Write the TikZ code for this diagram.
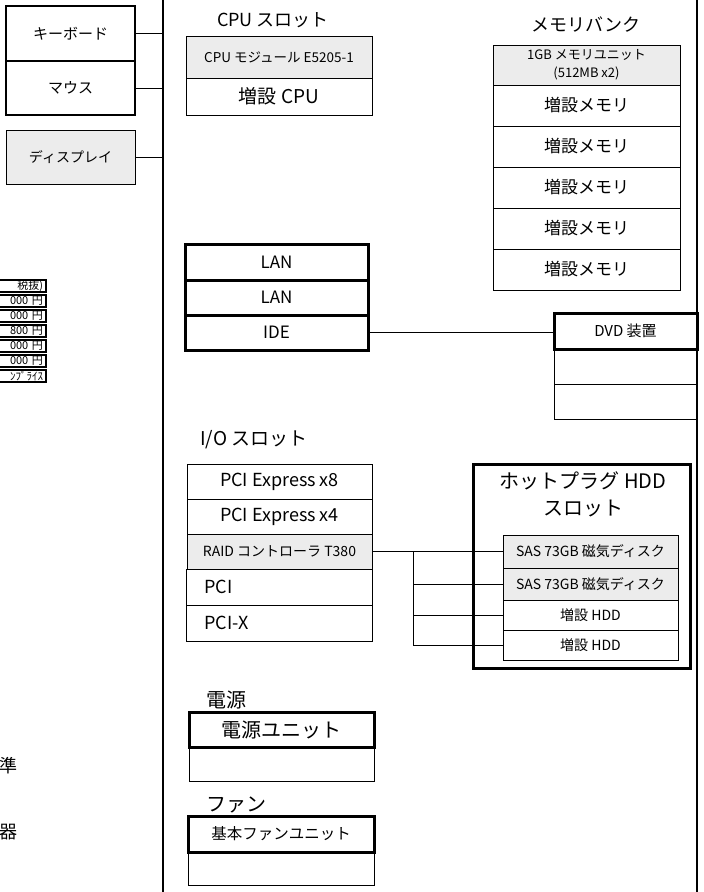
\documentclass[tikz,border=0pt]{standalone}
\usepackage{fontspec}
\setmainfont{Noto Sans CJK JP}
\usepackage{tikz}
\usetikzlibrary{positioning, calc}
\definecolor{slotgray}{RGB}{236,236,236}

\newcommand{\fs}[1]{\fontsize{#1}{#1}\selectfont}

\begin{document}
\begin{tikzpicture}[
    x=1pt, y=-1pt,
    % --- STYLES ---
    slot/.style={
        rectangle, draw=black, line width=1pt,
        outer sep=0pt, inner sep=2pt,
        minimum width=186pt, minimum height=35pt,
        align=center, font=\fs{17}
    },
    grayslot/.style={slot, fill=slotgray},
    thickslot/.style={slot, line width=3pt},
    leftslot/.style={slot, text width=150pt, align=left, inner xsep=18pt},
    pricecell/.style={
        rectangle, draw=black, line width=2pt, outer sep=0pt,
        text width=52pt, align=right, inner xsep=3pt, inner ysep=0pt,
        minimum height=11.5pt, font=\fs{11}
    },
    slottitle/.style={font=\fs{18}, inner sep=0pt},
    bus/.style={line width=2pt},
    wire/.style={line width=1pt}
]

\useasboundingbox (0,0) rectangle (704,892);
\clip (0,0) rectangle (704,892);

% ===== 1. BUS LINES =====
\coordinate (busLtop) at (163,0);
\coordinate (busLbot) at (163,892);
\coordinate (busRtop) at (697,0);
\coordinate (busRbot) at (697,892);
\draw[bus] (busLtop) -- (busLbot);
\draw[bus] (busRtop) -- (busRbot);

% ===== 2. PERIPHERALS (left) =====
\node[slot, line width=2.5pt, anchor=north west, minimum width=129pt, minimum height=55pt, font=\fs{15}] (kbd) at (6,6) {キーボード};
\node[slot, line width=2.5pt, below=0pt of kbd, minimum width=129pt, minimum height=54pt, font=\fs{15}] (mouse) {マウス};
\node[grayslot, anchor=north west, minimum width=129pt, minimum height=54pt, font=\fs{14}] (disp) at (6,130) {ディスプレイ};

\draw[wire] (kbd.east) -- (kbd.east -| busLtop);
\draw[wire] (mouse.east) -- (mouse.east -| busLtop);
\draw[wire] (disp.east) -- (disp.east -| busLtop);

% price table (cut off at the left edge)
\foreach \txt [count=\i] in {{税抜)},{000 円},{000 円},{800 円},{000 円},{000 円},{ﾝﾌﾟﾗｲｽ}}
    \node[pricecell, anchor=north east] (price\i) at (46,265+15*\i) {\txt};

\node[font=\fs{18}, anchor=east, inner sep=0pt] (lblA) at (18,766) {準};
\node[font=\fs{18}, anchor=east, inner sep=0pt] (lblB) at (18,832) {器};

% ===== 3. CPU / MEMORY =====
\node[slottitle] (cputitle) at (273,20) {CPU スロット};
\node[grayslot, anchor=north west, minimum height=42pt, font=\fs{13.5}] (cpumod) at (186,36) {CPU モジュール E5205-1};
\node[slot, below=0pt of cpumod, minimum height=37pt, font=\fs{19}] (cpuadd) {増設 CPU};

\node[slottitle] (memtitle) at (586,25) {メモリバンク};
\node[grayslot, anchor=north west, minimum width=187pt, minimum height=40pt, font=\fontsize{13}{18}\selectfont] (mem0) at (493,45) {1GB メモリユニット\\(512MB x2)};
\foreach \i [evaluate=\i as \j using int(\i-1)] in {1,...,5}
    \node[slot, below=0pt of mem\j, minimum width=187pt, minimum height=41pt] (mem\i) {増設メモリ};

% ===== 4. LAN / IDE / DVD =====
\node[thickslot, anchor=north west, minimum width=183pt, minimum height=36pt] (lan1) at (185,244) {LAN};
\node[thickslot, below=0pt of lan1, minimum width=183pt] (lan2) {LAN};
\node[thickslot, below=0pt of lan2, minimum width=183pt] (ide) {IDE};

\node[slot, anchor=north west, minimum width=143pt, minimum height=35pt] (dvdA) at (554,349) {};
\node[slot, below=0pt of dvdA, minimum width=143pt, minimum height=35pt] (dvdB) {};
\node[thickslot, above=0pt of dvdA, minimum width=143pt, minimum height=36pt, font=\fs{15}] (dvd) {DVD 装置};

\draw[wire] (ide.east) -- (ide.east -| dvd.west);

% ===== 5. I/O SLOTS =====
\node[slottitle, anchor=west, font=\fs{19}] (iotitle) at (200,440) {I/O スロット};
\node[slot, anchor=north west, minimum width=185pt, font=\fs{18}] (pcie8) at (187,464) {PCI Express x8};
\node[slot, below=0pt of pcie8, minimum width=185pt, font=\fs{18}] (pcie4) {PCI Express x4};
\node[grayslot, below=0pt of pcie4, minimum width=185pt, font=\fs{14}] (raid) {RAID コントローラ T380};
\node[leftslot, below=0pt of raid, minimum height=36pt, font=\fs{18}] (pci) {PCI};
\node[leftslot, below=0pt of pci, minimum height=36pt, font=\fs{18}] (pcix) {PCI-X};

% ===== 6. HOT-PLUG HDD =====
\node[draw, line width=3pt, outer sep=0pt, anchor=north west, minimum width=217pt, minimum height=204pt] (hddslot) at (473,464) {};
\node[slottitle, align=center, font=\fontsize{20}{27}\selectfont] (hddtitle) at (583,494) {ホットプラグ HDD\\スロット};

\node[grayslot, anchor=north west, minimum width=175pt, minimum height=33pt, font=\fs{14}] (disk1) at (503,535) {SAS 73GB 磁気ディスク};
\node[grayslot, below=0pt of disk1, minimum width=175pt, minimum height=32pt, font=\fs{14}] (disk2) {SAS 73GB 磁気ディスク};
\node[slot, below=0pt of disk2, minimum width=175pt, minimum height=30pt, font=\fs{14}] (disk3) {増設 HDD};
\node[slot, below=0pt of disk3, minimum width=175pt, minimum height=30pt, font=\fs{14}] (disk4) {増設 HDD};

\coordinate (tap) at ([xshift=41pt]raid.east);
\draw[wire] (raid.east) -- (raid.east -| disk1.west);
\draw[wire] (tap) |- (disk4.west);
\draw[wire] (tap |- disk2.west) -- (disk2.west);
\draw[wire] (tap |- disk3.west) -- (disk3.west);

% ===== 7. POWER / FAN =====
\node[slottitle, anchor=west, font=\fs{20}] (pwrtitle) at (206,700) {電源};
\node[thickslot, anchor=north west, minimum width=185pt, font=\fs{20}] (psu) at (189,712) {電源ユニット};
\node[slot, below=0pt of psu, minimum width=185pt, minimum height=34pt] (psuB) {};

\node[slottitle, anchor=west, font=\fs{20}] (fantitle) at (206,805) {ファン};
\node[thickslot, anchor=north west, minimum width=186pt, minimum height=36pt, font=\fs{15.5}] (fan) at (188,816) {基本ファンユニット};
\node[slot, below=0pt of fan, minimum height=33pt] (fanB) {};

\end{tikzpicture}
\end{document}
